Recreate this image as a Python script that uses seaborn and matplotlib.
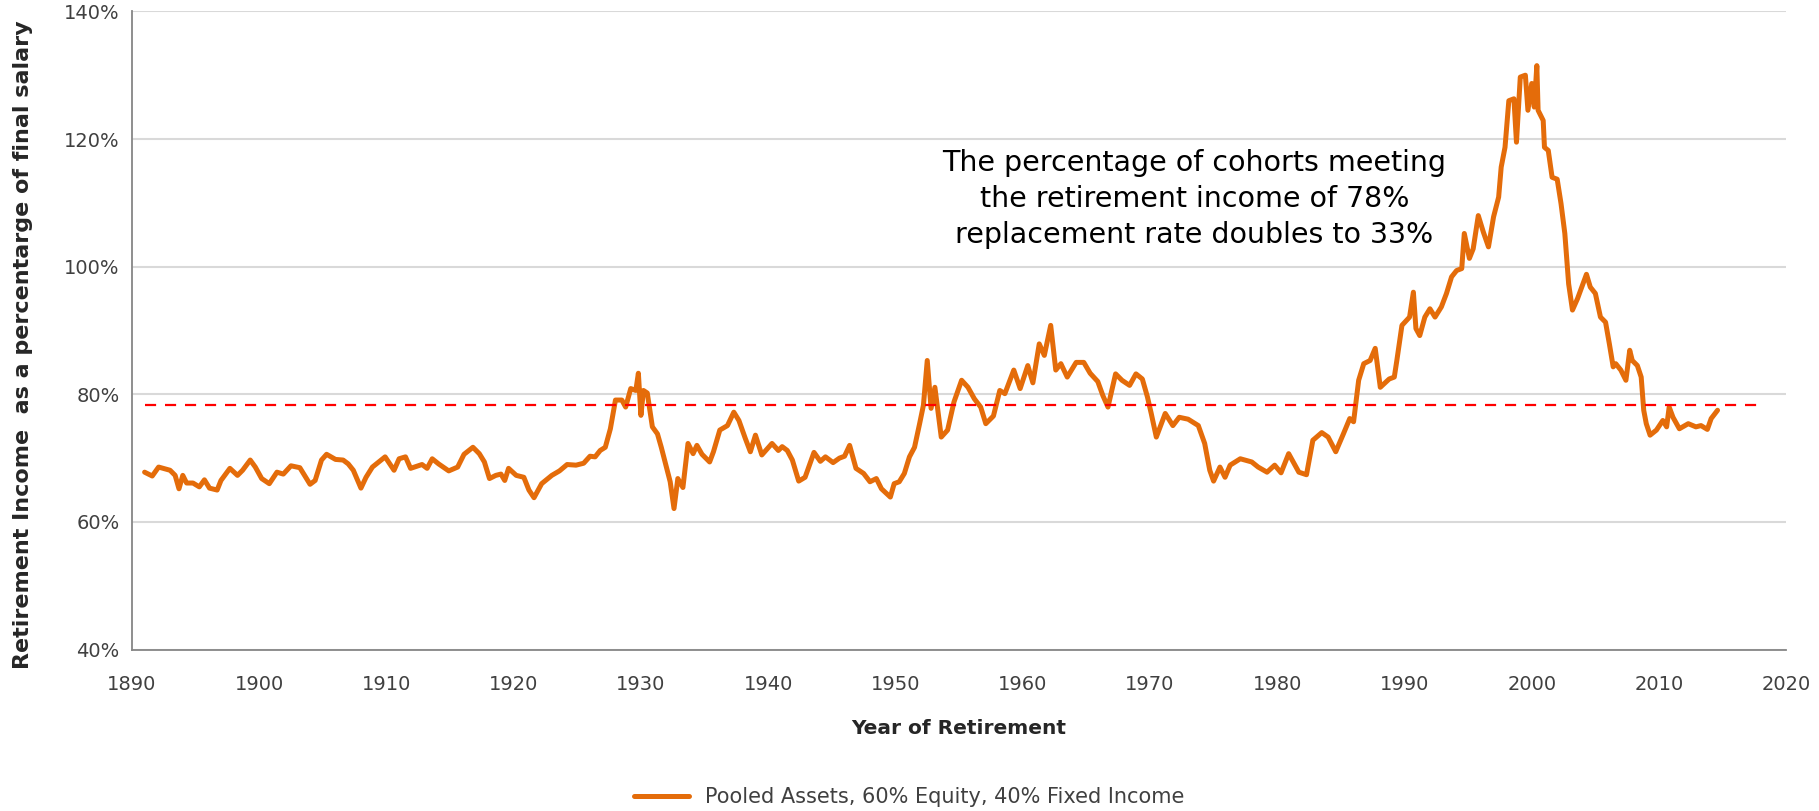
import numpy as np
import pandas as pd
import matplotlib
matplotlib.use("Agg")
import matplotlib.pyplot as plt
import seaborn as sns
from matplotlib.ticker import FuncFormatter

sns.set_style("white")
plt.rcParams['font.family'] = ['DejaVu Sans']

# Year of retirement
years = [
    1891.0, 1891.6, 1892.1, 1893.0, 1893.4, 1893.7, 1894.0, 1894.3, 1894.8, 1895.3,
    1895.7, 1896.1, 1896.7, 1897.0, 1897.7, 1898.3, 1898.7, 1899.3, 1899.7, 1900.2,
    1900.8, 1901.4, 1901.9, 1902.5, 1903.2, 1904.0, 1904.4, 1904.9, 1905.3, 1906.0,
    1906.6, 1907.0, 1907.4, 1908.0, 1908.4, 1908.9, 1909.4, 1909.9, 1910.6, 1911.0,
    1911.5, 1911.9, 1912.8, 1913.2, 1913.6, 1914.1, 1914.9, 1915.6, 1916.1, 1916.8,
    1917.3, 1917.7, 1918.1, 1918.6, 1919.0, 1919.3, 1919.6, 1920.2, 1920.8, 1921.2,
    1921.6, 1922.2, 1923.0, 1923.6, 1924.2, 1924.9, 1925.5, 1926.0, 1926.4, 1926.8,
    1927.2, 1927.6, 1928.0, 1928.5, 1928.8, 1929.2, 1929.6, 1929.8, 1930.0, 1930.2,
    1930.5, 1930.9, 1931.3, 1931.6, 1932.0, 1932.3, 1932.6, 1932.9, 1933.3, 1933.7,
    1934.1, 1934.4, 1934.8, 1935.4, 1935.7, 1936.2, 1936.8, 1937.3, 1937.7, 1938.2,
    1938.6, 1939.0, 1939.5, 1940.3, 1940.8, 1941.1, 1941.5, 1941.9, 1942.4, 1942.9,
    1943.6, 1944.1, 1944.5, 1945.1, 1945.6, 1946.0, 1946.4, 1946.9, 1947.5, 1948.0,
    1948.5, 1948.9, 1949.6, 1949.9, 1950.3, 1950.7, 1951.1, 1951.5, 1951.9, 1952.2,
    1952.5, 1952.8, 1953.1, 1953.6, 1954.1, 1954.6, 1955.2, 1955.7, 1956.2, 1956.7,
    1957.1, 1957.7, 1958.2, 1958.6, 1959.3, 1959.8, 1960.4, 1960.8, 1961.3, 1961.7,
    1962.2, 1962.6, 1963.0, 1963.5, 1964.2, 1964.8, 1965.3, 1965.9, 1966.3, 1966.7,
    1967.3, 1967.8, 1968.4, 1968.9, 1969.4, 1969.8, 1970.1, 1970.5, 1970.8, 1971.2,
    1971.8, 1972.3, 1973.0, 1973.8, 1974.3, 1974.7, 1975.0, 1975.5, 1975.9, 1976.3,
    1977.1, 1978.0, 1978.5, 1979.2, 1979.8, 1980.3, 1980.9, 1981.7, 1982.3, 1982.8,
    1983.5, 1984.0, 1984.6, 1985.2, 1985.7, 1986.0, 1986.4, 1986.8, 1987.3, 1987.7,
    1988.1, 1988.8, 1989.2, 1989.4, 1989.8, 1990.4, 1990.7, 1990.9, 1991.2, 1991.6,
    1992.0, 1992.4, 1992.9, 1993.3, 1993.7, 1994.1, 1994.5, 1994.7, 1995.1, 1995.4,
    1995.8, 1996.2, 1996.6, 1997.0, 1997.4, 1997.6, 1997.9, 1998.2, 1998.6, 1998.8,
    1999.1, 1999.5, 1999.7, 2000.0, 2000.2, 2000.4, 2000.5, 2000.9, 2001.0, 2001.3,
    2001.6, 2002.0, 2002.3, 2002.6, 2002.9, 2003.2, 2003.6, 2004.3, 2004.6, 2005.0,
    2005.4, 2005.8, 2006.1, 2006.4, 2006.6, 2007.0, 2007.4, 2007.7, 2007.9, 2008.3,
    2008.6, 2008.8, 2009.0, 2009.3, 2009.8, 2010.3, 2010.6, 2010.8, 2011.1, 2011.6,
    2012.3, 2012.9, 2013.3, 2013.8, 2014.1, 2014.6,
]

# Retirement income as % of final salary
income_pct = [
    67.8, 67.2, 68.6, 68.1, 67.3, 65.2, 67.3, 66.1, 66.1, 65.5,
    66.6, 65.3, 65.0, 66.5, 68.4, 67.3, 68.1, 69.7, 68.6, 66.8,
    66.0, 67.8, 67.5, 68.8, 68.5, 65.9, 66.5, 69.7, 70.6, 69.8,
    69.7, 69.1, 68.1, 65.3, 67.0, 68.6, 69.4, 70.2, 68.1, 69.9,
    70.2, 68.4, 69.0, 68.4, 69.9, 69.1, 68.0, 68.6, 70.6, 71.7,
    70.7, 69.4, 66.8, 67.3, 67.5, 66.5, 68.4, 67.3, 67.0, 65.0,
    63.8, 66.0, 67.3, 68.0, 69.0, 68.9, 69.2, 70.3, 70.2, 71.2,
    71.7, 74.6, 79.1, 79.1, 78.0, 80.9, 80.6, 83.3, 76.7, 80.6,
    80.2, 74.9, 73.8, 71.7, 68.6, 66.3, 62.1, 66.8, 65.4, 72.3,
    70.7, 72.0, 70.6, 69.4, 71.0, 74.4, 75.1, 77.2, 75.9, 73.1,
    71.0, 73.6, 70.5, 72.3, 71.2, 71.8, 71.2, 69.7, 66.4, 67.0,
    70.9, 69.5, 70.2, 69.3, 70.0, 70.3, 72.0, 68.4, 67.6, 66.3,
    66.8, 65.2, 63.9, 66.0, 66.3, 67.6, 70.2, 71.7, 75.4, 78.3,
    85.3, 77.8, 81.1, 73.3, 74.4, 78.8, 82.2, 81.1, 79.3, 78.0,
    75.4, 76.6, 80.6, 80.1, 83.8, 80.9, 84.5, 81.8, 87.9, 86.1,
    90.8, 83.8, 84.8, 82.7, 85.0, 85.0, 83.3, 82.0, 79.8, 78.0,
    83.2, 82.2, 81.4, 83.2, 82.4, 79.6, 77.0, 73.3, 74.9, 77.0,
    75.1, 76.4, 76.1, 75.1, 72.3, 68.1, 66.4, 68.6, 67.0, 68.9,
    69.9, 69.4, 68.6, 67.8, 68.9, 67.7, 70.7, 67.8, 67.4, 72.8,
    74.0, 73.3, 71.0, 73.8, 76.2, 75.7, 82.2, 84.8, 85.3, 87.2,
    81.1, 82.4, 82.7, 85.3, 90.8, 92.1, 96.0, 90.3, 89.2, 92.1,
    93.4, 92.1, 93.7, 95.8, 98.4, 99.4, 99.7, 105.2, 101.3, 102.8,
    108.0, 105.4, 103.1, 107.8, 110.9, 115.6, 118.7, 126.0, 126.3, 119.5,
    129.7, 130.0, 124.5, 128.7, 125.0, 131.5, 124.5, 122.9, 118.7, 118.2,
    114.0, 113.7, 109.9, 105.2, 97.3, 93.2, 95.0, 98.8, 96.8, 95.8,
    92.1, 91.3, 87.9, 84.3, 84.8, 83.8, 82.2, 86.9, 85.3, 84.5,
    82.7, 77.5, 75.4, 73.6, 74.4, 75.9, 74.9, 78.0, 76.4, 74.6,
    75.4, 74.9, 75.1, 74.5, 76.2, 77.5,
]

series_name = "Pooled Assets, 60% Equity, 40% Fixed Income"
target_rate = 78.4
target_span = [1891, 2018]
note = ("The percentage of cohorts meeting\n"
        "the retirement income of 78%\n"
        "replacement rate doubles to 33%")

df = pd.DataFrame({"year": years, "income": income_pct, "series": series_name})

fig = plt.figure(figsize=(18.19, 8.11), dpi=100)
ax = fig.add_axes([0.0725, 0.199, 0.9095, 0.787])

ax.grid(axis="y", color="#d9d9d9", lw=1.5)
ax.set_axisbelow(True)

sns.lineplot(data=df, x="year", y="income", hue="series", palette=["#e46c0a"],
             lw=3.6, ax=ax, legend=True)

# 78% replacement-rate target
ax.plot(target_span, [target_rate, target_rate], color="red", lw=1.6,
        ls=(0, (5, 4)), zorder=3)

ax.text(1973.5, 110.6, note, ha="center", va="center", fontsize=20.5,
        color="black", linespacing=1.36)

ax.set_xlim(1890, 2020)
ax.set_ylim(40, 140)
ax.set_xticks(np.arange(1890, 2021, 10))
ax.set_yticks(np.arange(40, 141, 20))
ax.yaxis.set_major_formatter(FuncFormatter(lambda v, p: f"{v:.0f}%"))

for side in ["top", "right"]:
    ax.spines[side].set_visible(False)
for side in ["left", "bottom"]:
    ax.spines[side].set_color("#868686")
    ax.spines[side].set_linewidth(1.3)

ax.tick_params(axis="both", colors="#868686", length=6, width=1.3,
               labelsize=14, labelcolor="#404040")
ax.tick_params(axis="x", pad=12)
ax.tick_params(axis="y", pad=3)

ax.set_xlabel("Year of Retirement", fontsize=14.5, fontweight="bold", labelpad=18)
ax.set_ylabel("Retirement Income  as a percentarge of final salary",
              fontsize=16, fontweight="bold")
ax.yaxis.set_label_coords(-0.06, 0.478)

handles, labels = ax.get_legend_handles_labels()
ax.get_legend().remove()
fig.legend(handles, labels, loc="lower center", bbox_to_anchor=(0.5, -0.018),
           frameon=False, fontsize=15, handlelength=2.6, labelcolor="#404040")

fig.savefig("out.png", dpi=100)
